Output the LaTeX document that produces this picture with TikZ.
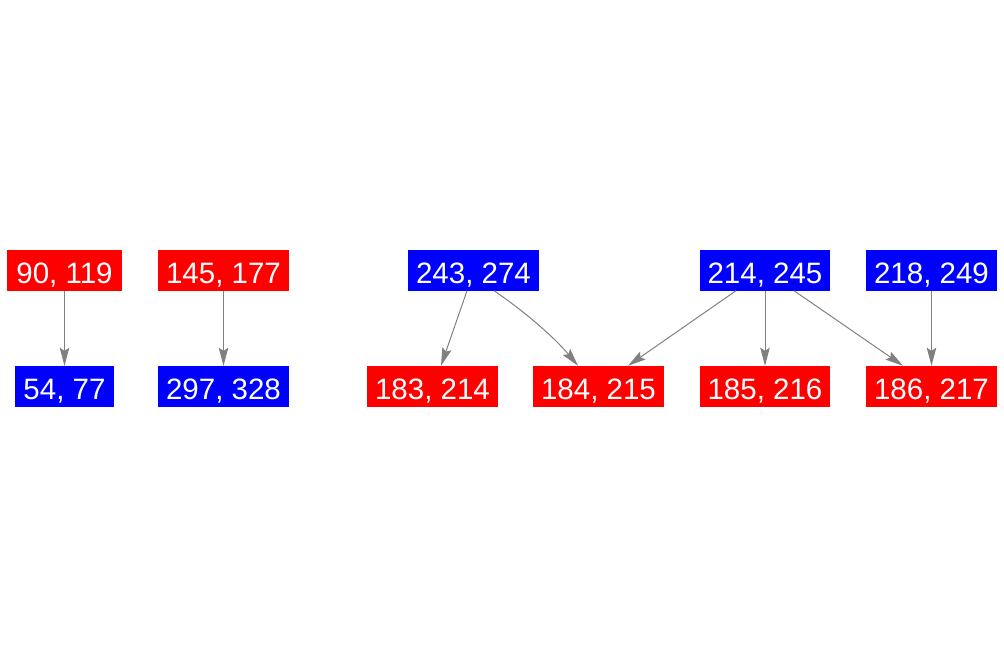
\documentclass[tikz,border=0pt]{standalone}
\usepackage{fontspec}
\setmainfont{Liberation Sans}
\usetikzlibrary{arrows.meta,calc}
\definecolor{nred}{RGB}{255,0,0}
\definecolor{nblue}{RGB}{0,0,255}
\definecolor{egray}{RGB}{128,128,128}
\tikzset{
  box/.style={rectangle, inner sep=0pt, minimum height=41pt, text=white,
    text height=26pt, text depth=0pt,
    font=\fontsize{29.5}{31}\selectfont},
  redbox/.style={box, fill=nred},
  bluebox/.style={box, fill=nblue},
  edge/.style={draw=egray, line width=1pt,
    -{Stealth[length=18pt,width=9.5pt,inset=3pt,fill=egray]}}
}
\begin{document}
\begin{tikzpicture}[x=1pt,y=-1pt]
\useasboundingbox (0,0) rectangle (1004,656);
% top row
\node[redbox, minimum width=115pt] (a1) at (64.5,270) {90, 119};
\node[redbox, minimum width=131pt] (a2) at (223.5,270) {145, 177};
\node[bluebox, minimum width=131pt] (a3) at (473.5,270) {243, 274};
\node[bluebox, minimum width=130pt] (a4) at (765,270) {214, 245};
\node[bluebox, minimum width=131pt] (a5) at (931.5,270) {218, 249};
% bottom row
\node[bluebox, minimum width=99pt] (b1) at (64.5,386.5) {54, 77};
\node[bluebox, minimum width=131pt] (b2) at (223.5,386.5) {297, 328};
\node[redbox, minimum width=131pt] (b3) at (432.5,386.5) {183, 214};
\node[redbox, minimum width=131pt] (b4) at (598.5,386.5) {184, 215};
\node[redbox, minimum width=130pt] (b5) at (765,386.5) {185, 216};
\node[redbox, minimum width=131pt] (b6) at (931.5,386.5) {186, 217};
% edges
\draw[edge] (a1.south) -- (b1.north);
\draw[edge] (a2.south) -- (b2.north);
\draw[edge] ($(a3.south)+(-6.5,0)$) -- ($(b3.north)+(8.5,0)$);
\draw[edge] ($(a3.south)+(20.5,0)$) .. controls ($(a3.south)+(48.5,19)$) and ($(b4.north)+(-45.5,-30)$) .. ($(b4.north)+(-20.5,0)$);
\draw[edge] ($(a4.south)+(-29,0)$) -- ($(b4.north)+(29.5,0)$);
\draw[edge] (a4.south) -- (b5.north);
\draw[edge] ($(a4.south)+(29,0)$) -- ($(b6.north)+(-28.5,0)$);
\draw[edge] (a5.south) -- (b6.north);
\end{tikzpicture}
\end{document}
